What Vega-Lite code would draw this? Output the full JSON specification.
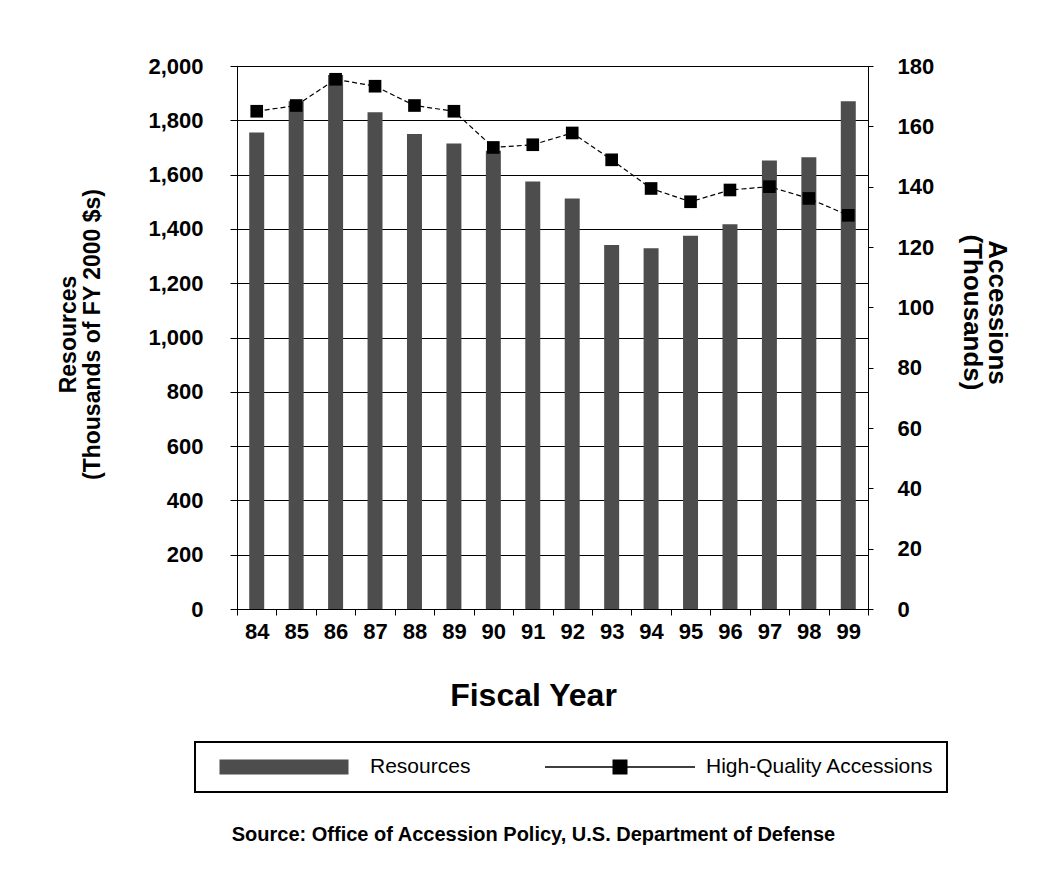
{
  "$schema": "https://vega.github.io/schema/vega-lite/v6.json",
  "width": 631,
  "height": 543,
  "autosize": {"type": "none"},
  "padding": {"left": 237, "top": 66, "right": 176, "bottom": 285},
  "background": "white",
  "config": {
    "font": "Liberation Sans",
    "view": {"stroke": "black", "strokeWidth": 1},
    "axis": {
      "labelColor": "black",
      "titleColor": "black",
      "domainColor": "black",
      "tickColor": "black",
      "gridColor": "black",
      "gridOpacity": 1,
      "labelFont": "Liberation Sans",
      "labelFontWeight": "bold",
      "labelFontSize": 22,
      "titleFont": "Liberation Sans",
      "titleFontWeight": "bold"
    }
  },
  "title": {
    "text": "Source:  Office of Accession Policy, U.S. Department of Defense",
    "orient": "bottom",
    "anchor": "middle",
    "font": "Liberation Sans",
    "fontSize": 20,
    "fontWeight": "bold",
    "color": "black",
    "offset": 32,
    "dx": -19
  },
  "data": {
    "values": [
      {"year": "84", "resources": 1755, "accessions": 165.0},
      {"year": "85", "resources": 1870, "accessions": 166.9},
      {"year": "86", "resources": 1967, "accessions": 175.6},
      {"year": "87", "resources": 1830, "accessions": 173.3},
      {"year": "88", "resources": 1750, "accessions": 166.9},
      {"year": "89", "resources": 1715, "accessions": 165.0},
      {"year": "90", "resources": 1688, "accessions": 153.0},
      {"year": "91", "resources": 1575, "accessions": 153.9},
      {"year": "92", "resources": 1512, "accessions": 157.8},
      {"year": "93", "resources": 1341, "accessions": 148.9},
      {"year": "94", "resources": 1329, "accessions": 139.4},
      {"year": "95", "resources": 1375, "accessions": 135.0},
      {"year": "96", "resources": 1417, "accessions": 138.9},
      {"year": "97", "resources": 1652, "accessions": 140.0},
      {"year": "98", "resources": 1664, "accessions": 136.1},
      {"year": "99", "resources": 1870, "accessions": 130.5}
    ]
  },
  "encoding": {
    "x": {
      "field": "year",
      "type": "ordinal",
      "scale": {"paddingInner": 0, "paddingOuter": 0},
      "axis": {
        "title": "Fiscal Year",
        "labelAngle": 0,
        "tickBand": "extent",
        "tickSize": 6,
        "labelPadding": 6,
        "titleFontSize": 32,
        "titleX": 296,
        "titleY": 96,
        "titleBaseline": "alphabetic",
        "titleAlign": "center"
      }
    }
  },
  "layer": [
    {
      "mark": {"type": "bar", "width": {"band": 0.38}},
      "encoding": {
        "y": {
          "field": "resources",
          "type": "quantitative",
          "scale": {"domain": [0, 2000]},
          "axis": {
            "values": [0, 200, 400, 600, 800, 1000, 1200, 1400, 1600, 1800, 2000],
            "format": ",d",
            "grid": true,
            "tickSize": 7,
            "labelPadding": 27,
            "title": ["Resources", "(Thousands of FY 2000 $s)"],
            "titleFontSize": 23,
            "titleAngle": -90,
            "titleX": -162,
            "titleY": 268,
            "titleBaseline": "alphabetic",
            "titleAlign": "center",
            "titleLineHeight": 24
          }
        },
        "color": {
          "datum": "Resources",
          "scale": {"domain": ["Resources", "High-Quality Accessions"], "range": ["#4d4d4d", "black"]},
          "legend": {
            "title": null,
            "orient": "none",
            "legendX": -42,
            "legendY": 676,
            "direction": "horizontal",
            "strokeColor": "black",
            "fillColor": "white",
            "padding": 13,
            "symbolSize": 22500,
            "clipHeight": 24,
            "labelOffset": 10,
            "columnPadding": 73,
            "labelFont": "Liberation Sans",
            "labelFontSize": 21,
            "labelLimit": 400,
            "labelColor": "black",
            "encode": {
              "legend": {"update": {"strokeWidth": {"value": 2}}},
              "symbols": {
                "update": {
                  "shape": {"signal": "datum.value === 'Resources' ? 'M-0.85,-0.09H0.85V0.09H-0.85Z' : 'M-1,0H-0.09V-0.09H0.09V0.09H-0.09V0M0.09,0H1'"},
                  "stroke": {"value": "black"},
                  "strokeWidth": {"value": 1.5},
                  "opacity": {"value": 1}
                }
              }
            }
          }
        }
      }
    },
    {
      "encoding": {
        "y": {
          "field": "accessions",
          "type": "quantitative",
          "scale": {"domain": [0, 180]},
          "axis": {
            "orient": "right",
            "values": [0, 20, 40, 60, 80, 100, 120, 140, 160, 180],
            "grid": false,
            "tickSize": 5,
            "labelPadding": 24,
            "title": ["Accessions", "(Thousands)"],
            "titleFontSize": 26,
            "titleAngle": 90,
            "titleX": 120,
            "titleY": 246,
            "titleBaseline": "alphabetic",
            "titleAlign": "center",
            "titleLineHeight": 25
          }
        },
        "color": {"datum": "High-Quality Accessions"}
      },
      "layer": [
        {"mark": {"type": "line", "strokeDash": [5, 3], "strokeWidth": 1.2}},
        {"mark": {"type": "point", "shape": "square", "filled": true, "size": 160, "opacity": 1}}
      ]
    }
  ],
  "resolve": {"scale": {"y": "independent"}}
}
